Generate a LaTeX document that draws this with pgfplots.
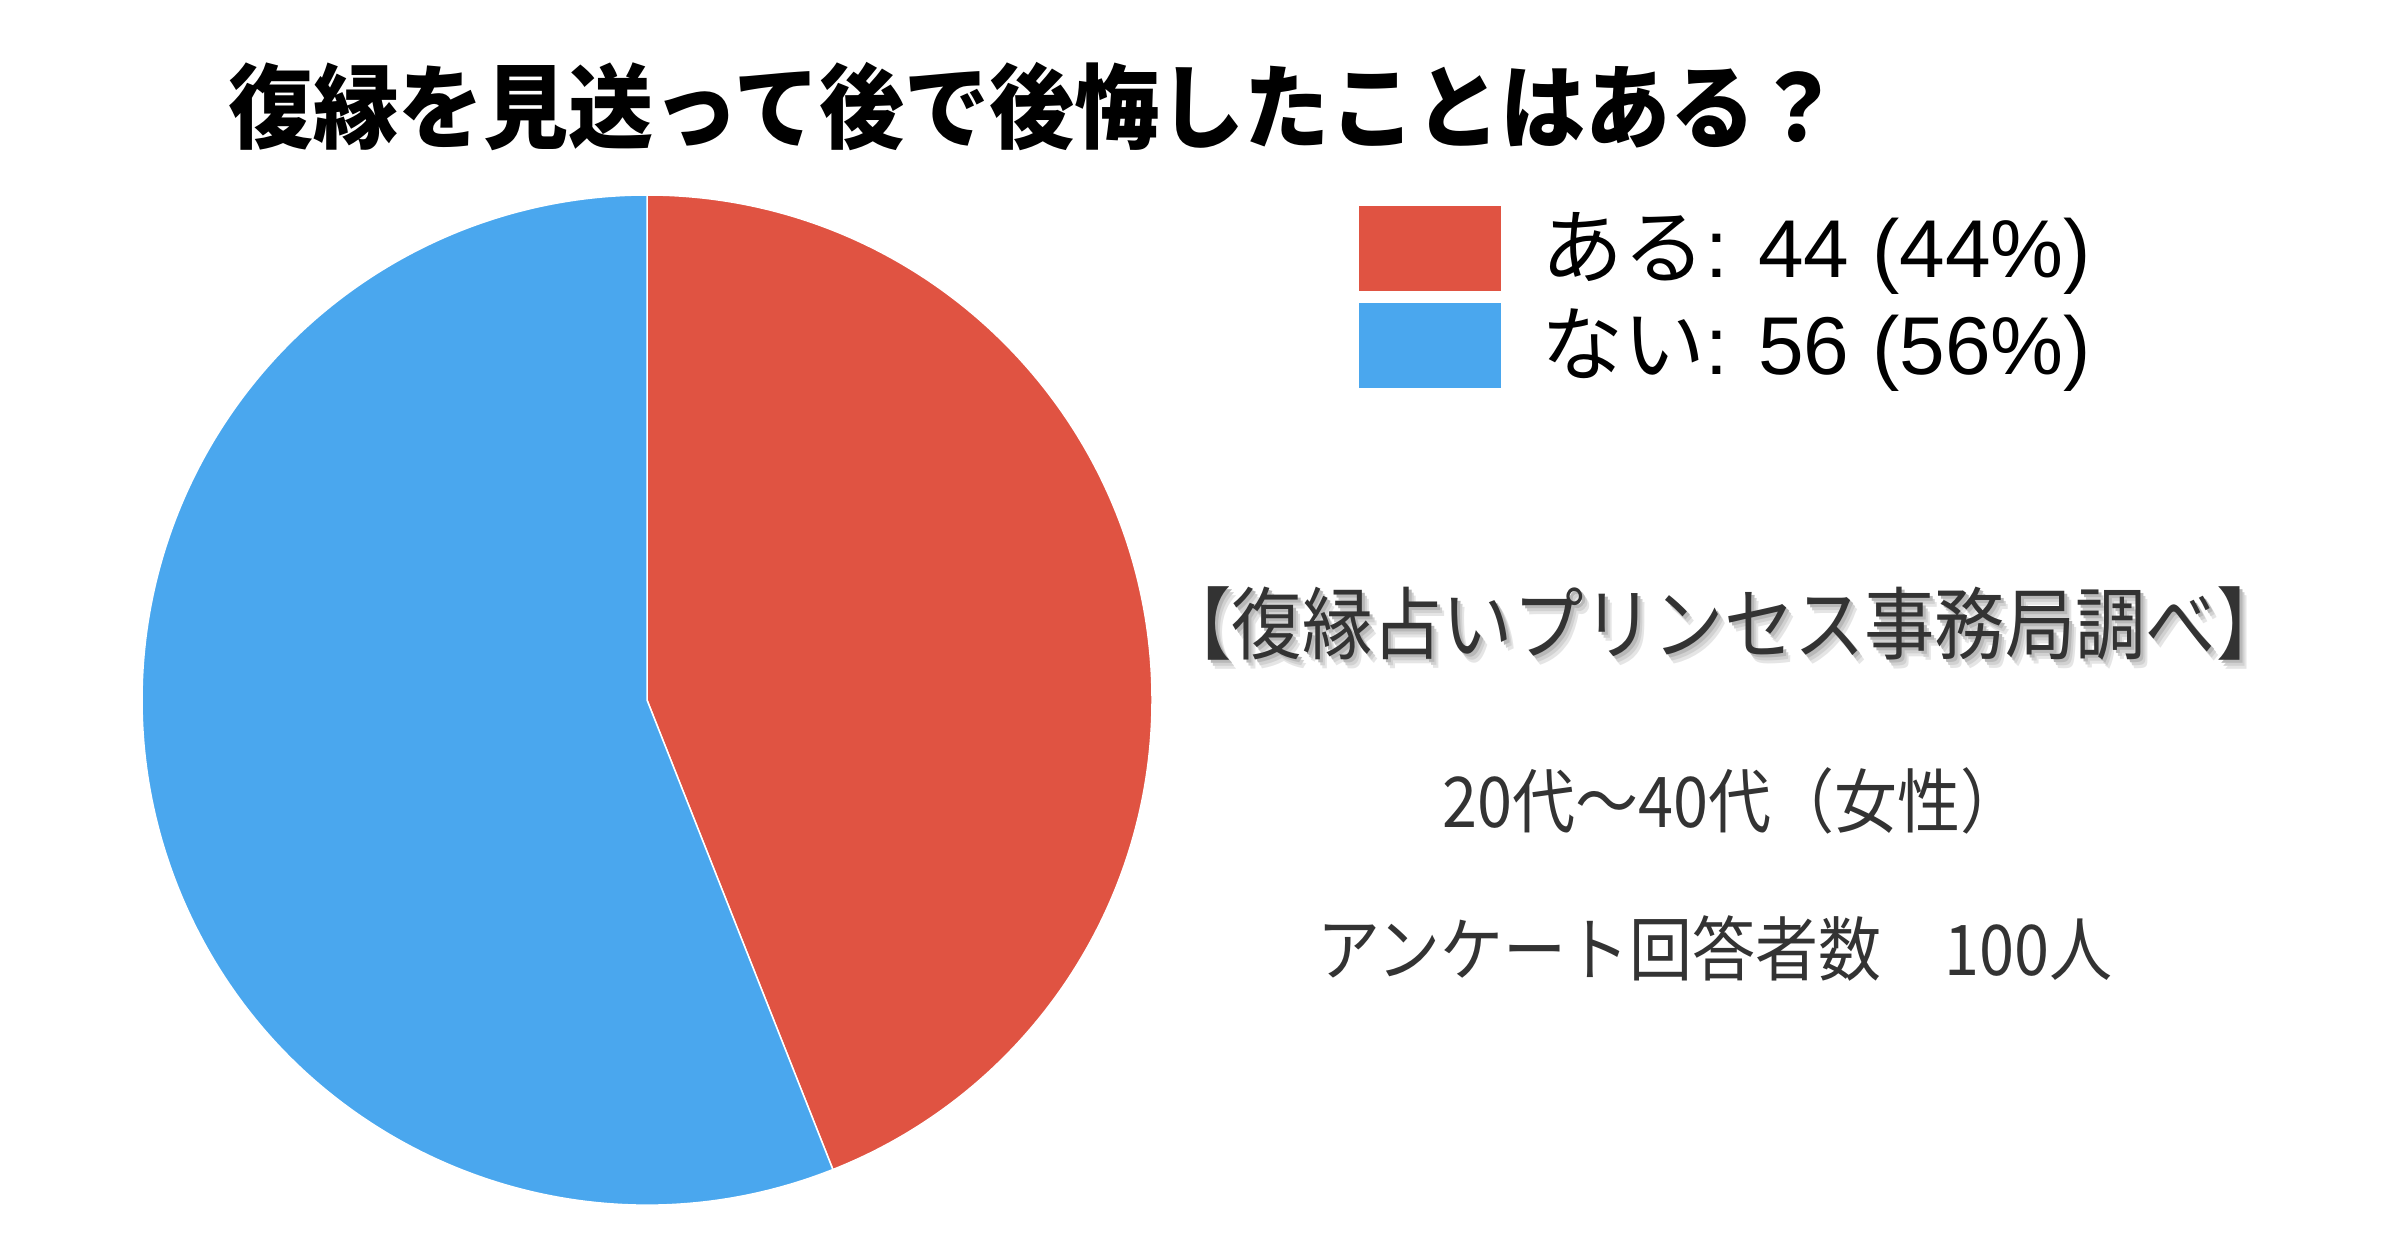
\documentclass[border=0pt]{standalone}
\usepackage{pgfplots}
\pgfplotsset{compat=1.18}
\usepackage{pgfplotstable}
\usepackage{fontspec}
\setmainfont{Liberation Sans}
\newfontfamily\jp{Noto Sans CJK JP}
\newfontfamily\jptitle[FakeStretch=0.925]{Noto Sans CJK JP}
\newfontfamily\jpsrc[FakeStretch=0.89]{Noto Sans CJK JP}
\newfontfamily\jpn[FakeStretch=0.9]{Noto Sans CJK JP}

\definecolor{pieRed}{HTML}{E05342}
\definecolor{pieBlue}{HTML}{4AA7EE}
\definecolor{note}{HTML}{333333}

% share of answers (100 women, 20s-40s)
\pgfplotstableread{
answer value
aru 44
nai 56
}\piedata

% text with a soft drop shadow, in one box
\newcommand\shadowed[1]{%
  \rlap{\hspace{1.4pt}\raisebox{-1.8pt}{\textcolor{black!10}{#1}}}%
  \rlap{\hspace{1pt}\raisebox{-1.2pt}{\textcolor{black!18}{#1}}}%
  \rlap{\hspace{0.6pt}\raisebox{-0.6pt}{\textcolor{black!28}{#1}}}%
  \textcolor{note}{#1}}

\begin{document}
\begin{tikzpicture}
\pgfplotstablegetelem{0}{value}\of\piedata
\pgfmathsetmacro\valA{\pgfplotsretval}
\pgfmathsetmacro\angA{90-3.6*\valA}
\begin{axis}[
    width=479.2pt, height=250pt,
    scale only axis,
    xmin=0, xmax=2396, ymin=0, ymax=1250,
    hide axis,
    clip=false,
    legend image code/.code={\fill[#1, draw=none] (0pt,-8.5pt) rectangle (28.4pt,8.5pt);},
    legend style={
        at={(axis cs:1359,1044)}, anchor=north west,
        draw=none, fill=none, inner sep=0pt, outer sep=0pt,
        row sep=2.4pt, column sep=8pt,
        font=\fontsize{16.4pt}{19pt}\selectfont,
        nodes={inner sep=0pt, anchor=west}
    },
]
    % pie wedges, clockwise from 12 o'clock
    \fill[pieRed, draw=white, line width=0.3pt]
        (axis cs:647,550) -- (axis cs:647,1055)
        arc[start angle=90, end angle=\angA, radius=101pt] -- cycle;
    \fill[pieBlue, draw=white, line width=0.3pt]
        (axis cs:647,550) -- ++(\angA:101pt)
        arc[start angle=\angA, end angle=-270, radius=101pt] -- cycle;

    \addlegendimage{fill=pieRed}
    \addlegendentry{{\jp ある}: 44 (44\%)}
    \addlegendimage{fill=pieBlue}
    \addlegendentry{{\jp ない}: 56 (56\%)}

    \node[anchor=west, inner sep=0pt, font=\jptitle\bfseries\fontsize{18.4pt}{20pt}\selectfont]
        at (axis cs:227,1143) {復縁を見送って後で後悔したことはある？};

    \node[inner sep=0pt, font=\jpsrc\fontsize{15.8pt}{18pt}\selectfont]
        at (axis cs:1724,622) {\shadowed{【復縁占いプリンセス事務局調べ】}};

    \node[inner sep=0pt, text=note, font=\jpn\fontsize{14pt}{16pt}\selectfont]
        at (axis cs:1733,449) {20代～40代（女性）};
    \node[inner sep=0pt, text=note, font=\jpn\fontsize{14pt}{16pt}\selectfont]
        at (axis cs:1715,302) {アンケート回答者数　100人};
\end{axis}
\pgfresetboundingbox
\path (current axis.south west) rectangle (current axis.north east);
\end{tikzpicture}
\end{document}
